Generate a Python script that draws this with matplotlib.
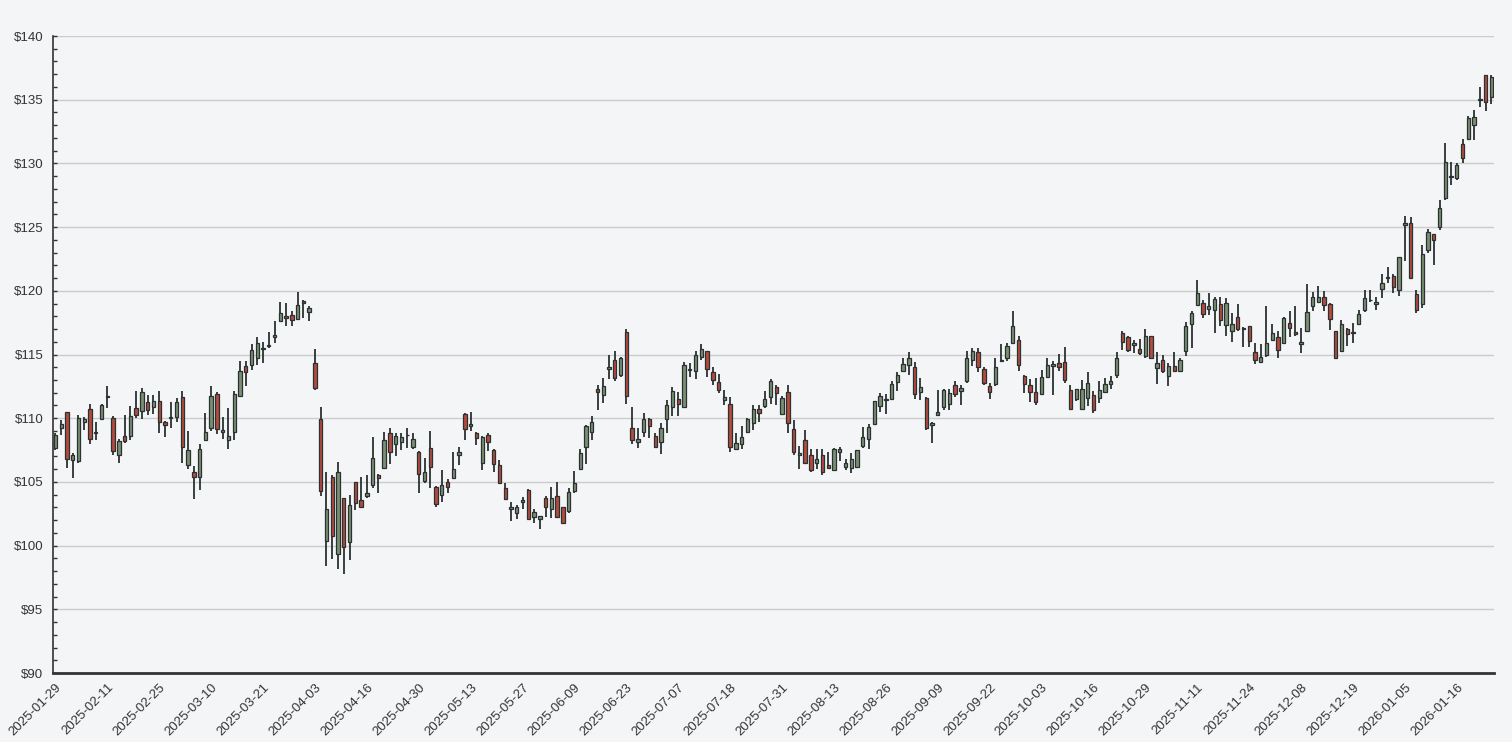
import matplotlib
matplotlib.use('Agg')
import matplotlib.pyplot as plt
import numpy as np
from matplotlib.ticker import MultipleLocator, FuncFormatter

opens = [107.67, 109.24, 110.52, 106.7, 106.62, 109.7, 110.76, 108.8, 109.92, 111.65,
         110.05, 107.12, 108.59, 108.6, 110.79, 110.6, 111.3, 110.9, 111.33, 109.74,
         110.0, 110.13, 111.7, 106.36, 105.76, 105.37, 108.32, 109.21, 111.88, 108.95,
         108.27, 108.9, 111.73, 114.08, 114.16, 114.7, 115.4, 115.65, 116.36, 117.6,
         118.06, 118.09, 117.78, 119.19, 118.32, 114.35, 109.9, 100.4, 105.42, 99.37,
         103.7, 100.31, 105.03, 103.6, 103.9, 104.74, 105.58, 106.13, 108.8, 108.0,
         108.17, 108.65, 107.77, 107.38, 105.08, 107.7, 104.63, 103.95, 105.03, 105.31,
         107.12, 110.31, 109.35, 108.87, 106.52, 108.67, 107.54, 106.36, 104.55, 102.9,
         102.59, 103.46, 104.35, 102.28, 102.12, 103.77, 102.9, 103.93, 103.0, 102.75,
         104.32, 106.05, 107.77, 108.95, 112.33, 111.86, 113.87, 114.6, 113.43, 116.73,
         109.27, 108.12, 108.93, 109.97, 108.64, 108.17, 109.97, 110.84, 111.54, 110.89,
         113.8, 113.74, 114.84, 115.24, 113.66, 112.88, 111.44, 111.15, 107.59, 108.0,
         108.93, 109.66, 110.76, 110.97, 111.7, 112.41, 110.34, 112.02, 109.19, 107.15,
         108.32, 107.15, 106.52, 107.15, 106.36, 105.97, 107.38, 106.18, 106.13, 106.18,
         107.83, 108.35, 109.58, 110.92, 111.4, 111.47, 112.85, 113.72, 114.21, 113.98,
         112.09, 111.62, 109.48, 110.26, 110.89, 111.13, 112.62, 112.17, 112.93, 114.53,
         115.16, 113.9, 112.49, 112.72, 114.5, 114.69, 115.94, 116.1, 113.35, 112.57,
         112.02, 111.91, 113.27, 114.06, 114.37, 114.45, 112.25, 111.54, 110.76, 111.62,
         111.86, 111.62, 112.02, 112.72, 113.43, 116.65, 116.34, 115.71, 115.47, 114.9,
         116.44, 113.95, 114.53, 113.35, 114.11, 113.69, 115.26, 117.43, 118.85, 119.08,
         118.59, 118.46, 119.0, 117.28, 116.88, 117.96, 117.1, 117.2, 115.16, 114.42,
         114.95, 116.1, 116.41, 115.94, 117.51, 116.73, 115.86, 116.88, 118.77, 119.16,
         119.48, 119.0, 116.81, 115.24, 117.04, 116.65, 117.36, 118.46, 119.24, 118.93,
         120.18, 121.12, 121.15, 120.06, 125.15, 125.31, 119.76, 118.93, 123.17, 124.45,
         125.0, 127.3, 128.9, 128.85, 131.52, 131.91, 133.01, 134.95, 136.94, 135.2]

highs = [108.82, 109.87, 110.52, 107.3, 110.26, 110.1, 111.1, 109.74, 111.1, 112.49,
         110.18, 108.4, 110.24, 110.99, 112.17, 112.4, 111.86, 111.86, 112.17, 109.8,
         111.28, 111.6, 112.17, 108.98, 106.28, 108.0, 110.39, 112.49, 112.04, 110.1,
         110.8, 112.1, 114.48, 114.48, 115.8, 116.4, 115.97, 116.8, 117.6, 119.1,
         119.03, 118.38, 119.9, 119.3, 118.82, 115.45, 110.84, 105.8, 105.55, 106.6,
         103.77, 103.95, 105.03, 105.42, 105.55, 108.56, 105.6, 108.93, 109.24, 108.85,
         108.82, 109.24, 108.87, 107.4, 106.9, 109.03, 104.65, 105.97, 105.24, 107.38,
         107.75, 110.42, 110.52, 108.9, 108.58, 108.85, 107.56, 106.73, 104.95, 103.43,
         103.22, 103.85, 104.42, 102.85, 102.32, 103.88, 104.63, 104.97, 103.02, 104.55,
         105.84, 107.62, 109.45, 110.2, 112.59, 113.17, 114.95, 115.24, 114.82, 116.99,
         110.89, 109.27, 110.42, 110.0, 108.85, 109.63, 111.39, 112.46, 112.09, 114.42,
         114.3, 115.31, 115.8, 115.26, 114.03, 113.5, 112.23, 111.7, 108.8, 109.42,
         109.99, 111.05, 111.05, 112.12, 113.06, 112.64, 111.78, 112.57, 109.87, 107.83,
         109.06, 107.57, 107.57, 107.57, 107.38, 107.7, 107.77, 106.78, 107.25, 107.5,
         109.34, 109.58, 111.36, 111.96, 111.93, 112.9, 113.64, 114.76, 115.21, 114.42,
         113.12, 111.64, 109.68, 112.2, 112.27, 112.28, 112.9, 112.64, 115.24, 115.5,
         115.5, 113.98, 112.8, 114.76, 115.79, 115.94, 118.38, 116.47, 113.37, 113.04,
         113.12, 113.77, 114.76, 114.5, 115.03, 115.55, 112.64, 112.33, 112.98, 113.59,
         112.17, 112.93, 113.19, 113.35, 115.16, 116.88, 116.44, 116.13, 116.18, 116.99,
         116.46, 115.21, 114.95, 114.37, 115.16, 114.76, 117.54, 118.43, 120.81, 119.24,
         119.79, 119.48, 119.48, 119.4, 118.22, 119.0, 117.12, 117.22, 115.94, 115.79,
         118.77, 117.43, 116.86, 117.98, 118.43, 118.77, 117.07, 120.5, 119.87, 120.34,
         119.95, 119.02, 116.83, 117.67, 117.06, 117.51, 118.46, 120.03, 120.1, 119.55,
         121.28, 121.83, 121.33, 122.66, 125.88, 125.78, 120.1, 123.57, 124.84, 124.47,
         127.1, 131.6, 130.1, 130.06, 131.9, 133.71, 134.19, 136.0, 136.96, 136.94]

lows = [107.49, 108.72, 106.1, 105.34, 106.5, 109.1, 108.0, 108.3, 109.87, 110.8,
        107.1, 106.5, 108.04, 108.3, 110.0, 109.97, 110.26, 110.3, 108.87, 108.56,
        109.24, 109.74, 106.5, 106.0, 103.67, 104.37, 108.25, 109.03, 108.74, 108.35,
        107.6, 108.3, 111.7, 112.5, 113.8, 114.16, 114.3, 115.5, 115.9, 117.6,
        117.2, 117.25, 117.78, 117.85, 117.6, 112.2, 103.9, 98.4, 98.98, 98.14,
        97.8, 98.85, 102.77, 102.98, 103.7, 104.5, 104.1, 106.13, 106.44, 107.0,
        107.49, 107.7, 107.57, 104.16, 104.95, 104.55, 103.06, 103.43, 104.1, 105.26,
        106.36, 108.32, 109.03, 107.93, 105.97, 107.43, 105.76, 104.84, 103.59, 101.9,
        102.07, 102.9, 102.07, 101.75, 101.28, 102.23, 102.17, 102.23, 101.73, 102.59,
        104.14, 105.94, 106.44, 108.25, 110.68, 111.18, 113.1, 112.93, 113.22, 111.15,
        107.96, 107.7, 108.53, 108.43, 107.7, 107.17, 108.8, 110.16, 110.2, 110.84,
        113.27, 113.1, 114.53, 113.2, 112.57, 112.0, 111.07, 107.36, 107.49, 107.62,
        108.82, 109.08, 109.74, 110.81, 111.15, 111.0, 110.34, 108.87, 107.1, 106.0,
        106.44, 105.81, 106.05, 105.52, 106.05, 105.84, 106.62, 105.94, 105.73, 106.1,
        107.7, 107.62, 109.56, 110.47, 110.34, 111.41, 112.1, 113.61, 113.38, 111.49,
        111.41, 109.08, 108.09, 110.26, 110.68, 110.65, 111.67, 111.05, 112.8, 114.08,
        113.59, 112.62, 111.54, 112.49, 114.45, 114.48, 115.94, 113.69, 111.94, 111.31,
        111.02, 111.91, 113.27, 111.8, 113.72, 112.75, 110.63, 111.34, 110.65, 110.97,
        110.39, 111.23, 112.02, 112.28, 113.12, 115.37, 115.16, 115.1, 115.0, 114.69,
        114.63, 112.67, 113.53, 112.49, 113.69, 113.69, 114.92, 115.5, 118.85, 117.83,
        118.09, 116.68, 117.25, 116.49, 115.97, 116.86, 115.6, 115.6, 114.24, 114.32,
        114.84, 116.1, 114.69, 115.86, 116.41, 116.47, 115.1, 116.88, 118.38, 119.08,
        118.38, 116.91, 114.63, 115.16, 115.68, 115.94, 117.36, 118.3, 119.16, 118.53,
        119.4, 120.65, 119.8, 119.57, 122.32, 120.95, 118.27, 118.66, 123.0, 122.0,
        124.76, 127.1, 128.3, 128.72, 130.03, 131.8, 131.83, 134.43, 134.11, 134.69]

closes = [108.66, 109.58, 106.83, 107.1, 110.0, 109.9, 108.38, 108.9, 111.0, 111.72,
          107.4, 108.2, 108.22, 110.16, 110.26, 112.04, 110.68, 111.33, 109.74, 109.5,
          110.1, 111.3, 107.77, 107.54, 105.37, 107.57, 108.95, 111.73, 109.14, 109.1,
          108.6, 111.88, 113.7, 113.6, 115.34, 115.9, 115.5, 115.73, 116.5, 118.25,
          117.85, 117.7, 118.87, 119.03, 118.64, 112.38, 104.29, 102.9, 100.76, 105.8,
          99.92, 103.17, 103.38, 103.06, 104.16, 106.9, 105.34, 108.32, 107.38, 108.6,
          108.56, 108.72, 108.4, 105.63, 105.8, 106.2, 103.3, 104.74, 104.63, 106.05,
          107.33, 109.19, 109.53, 108.46, 108.56, 108.14, 106.44, 104.92, 103.69, 103.0,
          103.06, 103.56, 102.12, 102.67, 102.3, 103.06, 103.77, 102.28, 101.8, 104.24,
          104.92, 107.23, 109.35, 109.74, 112.09, 112.49, 113.98, 113.17, 114.69, 111.75,
          108.32, 108.4, 109.97, 109.4, 107.77, 109.27, 111.07, 112.17, 111.15, 114.21,
          113.9, 114.95, 115.47, 113.9, 112.96, 112.23, 111.7, 107.77, 108.09, 108.56,
          109.97, 110.76, 110.42, 111.47, 112.9, 111.94, 111.62, 109.66, 107.38, 107.23,
          106.52, 105.94, 106.83, 105.81, 106.13, 107.62, 107.57, 106.52, 106.78, 107.49,
          108.56, 109.29, 111.34, 111.78, 111.5, 112.72, 113.38, 114.29, 114.69, 111.91,
          112.41, 109.27, 109.66, 110.45, 112.25, 111.94, 111.91, 112.36, 114.69, 115.31,
          113.98, 112.8, 112.02, 113.98, 114.6, 115.63, 117.2, 114.21, 112.72, 112.02,
          111.31, 113.27, 114.21, 114.29, 114.03, 112.96, 110.76, 112.28, 112.33, 112.8,
          110.68, 112.25, 112.72, 112.9, 114.69, 116.02, 115.37, 115.94, 115.08, 116.49,
          114.69, 114.37, 113.74, 114.11, 113.69, 114.53, 117.23, 118.22, 119.79, 118.14,
          118.77, 119.35, 117.67, 119.08, 117.36, 117.04, 117.04, 116.05, 114.53, 114.79,
          115.94, 116.65, 115.39, 117.83, 117.09, 116.57, 116.02, 118.3, 119.55, 119.55,
          118.85, 117.75, 114.71, 117.43, 116.57, 116.73, 118.14, 119.4, 119.3, 119.16,
          120.58, 120.97, 120.27, 122.64, 125.31, 120.97, 118.46, 122.87, 124.6, 123.98,
          126.5, 130.1, 129.0, 129.87, 130.4, 133.56, 133.64, 135.06, 134.82, 136.78]

tick_labels = ['2025-01-29', '2025-02-11', '2025-02-25', '2025-03-10', '2025-03-21',
               '2025-04-03', '2025-04-16', '2025-04-30', '2025-05-13', '2025-05-27',
               '2025-06-09', '2025-06-23', '2025-07-07', '2025-07-18', '2025-07-31',
               '2025-08-13', '2025-08-26', '2025-09-09', '2025-09-22', '2025-10-03',
               '2025-10-16', '2025-10-29', '2025-11-11', '2025-11-24', '2025-12-08',
               '2025-12-19', '2026-01-05', '2026-01-16']

BG = '#f3f5f7'
UP = '#7b9073'
DOWN = '#b54a3d'
EDGE = '#2b3131'
TEXT = '#333333'

plt.rcParams['font.family'] = ['Liberation Sans', 'DejaVu Sans']

o = np.array(opens); h = np.array(highs); l = np.array(lows); c = np.array(closes)
n = len(o)
x = np.arange(n)

fig = plt.figure(figsize=(15.12, 7.42), dpi=100)
fig.patch.set_facecolor(BG)
ax = fig.add_axes([53 / 1512, 69 / 742, 1441 / 1512, 637 / 742])
ax.set_facecolor(BG)

up = c >= o
ax.vlines(x, l, h, color=EDGE, lw=1.3, zorder=2)
body_bottom = np.minimum(o, c)
body_h = np.maximum(np.abs(c - o), 0.07)
ax.bar(x, body_h, bottom=body_bottom, width=0.58,
       color=np.where(up, UP, DOWN), edgecolor=EDGE, linewidth=0.9, zorder=3)

ax.set_xlim(-0.42, n - 0.55)
ax.set_ylim(90, 140)
ax.yaxis.set_major_locator(MultipleLocator(5))
ax.yaxis.set_minor_locator(MultipleLocator(1))
ax.yaxis.set_major_formatter(FuncFormatter(lambda v, p: f'${v:.0f}'))
ax.grid(axis='y', which='major', color='#cccccc', lw=1.0)
ax.set_axisbelow(True)

ticks = np.arange(0, n, 9)[:len(tick_labels)]
ax.set_xticks(ticks)
ax.set_xticklabels(tick_labels, rotation=45, ha='right', va='top',
                   rotation_mode='anchor')

ax.tick_params(axis='y', which='both', direction='in', length=3, width=1,
               color=TEXT, labelsize=9.5, labelcolor=TEXT, pad=7)
ax.tick_params(axis='x', length=0, labelsize=9.5, labelcolor=TEXT, pad=6)

for s in ['top', 'right']:
    ax.spines[s].set_visible(False)
ax.spines['left'].set_color(TEXT)
ax.spines['left'].set_linewidth(1.2)
ax.spines['bottom'].set_color(TEXT)
ax.spines['bottom'].set_linewidth(2)

fig.savefig('out.png', dpi=100, facecolor=BG)
